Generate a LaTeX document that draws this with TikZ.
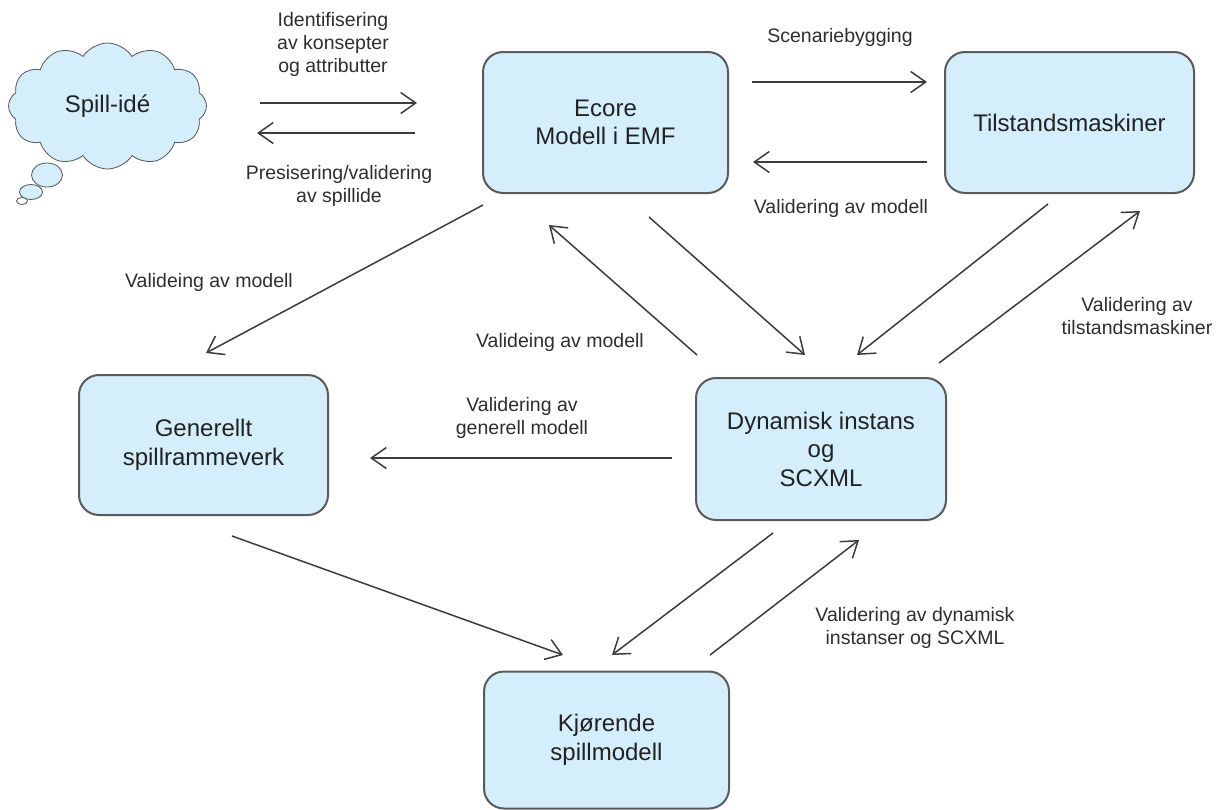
\documentclass[tikz,border=0pt]{standalone}
\usepackage{fontspec}
\setmainfont{Liberation Sans}
\usetikzlibrary{arrows.meta,shapes.symbols,shapes.geometric}
\definecolor{boxfill}{HTML}{D4EEFC}
\definecolor{boxline}{HTML}{5A5A5A}
\definecolor{arrowcol}{HTML}{3C3C3C}
\definecolor{txt}{HTML}{222222}
\definecolor{lbltxt}{HTML}{2E2E2E}
\definecolor{cloudline}{HTML}{555555}

\begin{document}
\begin{tikzpicture}[x=1pt,y=-1pt,
  stage/.style={draw=boxline, line width=2pt, fill=boxfill, rounded corners=20pt,
    align=center, font=\fontsize{24}{28.5}\selectfont, text=txt, inner sep=0pt},
  flow/.style={draw=arrowcol, line width=1.5pt,
    -{Straight Barb[length=15pt,width=21pt,line width=1.5pt]}},
  lbl/.style={align=center, font=\fontsize{19.5}{23}\selectfont, text=lbltxt, inner sep=0pt},
  bubble/.style={ellipse, draw=cloudline, line width=0.8pt, fill=boxfill, inner sep=0pt}]

\useasboundingbox (0,0) rectangle (1226,809);

% the idea cloud and its thought bubbles
\node[cloud, cloud puffs=12, cloud puff arc=115, aspect=1.6, draw=cloudline,
      line width=0.8pt, fill=boxfill, minimum width=198pt, minimum height=126pt,
      font=\fontsize{24}{28.5}\selectfont, text=txt] (idea) at (107.5,106) {Spill-idé};
\node[bubble, minimum width=31pt, minimum height=24pt] (b1) at (47,175) {};
\node[bubble, minimum width=23pt, minimum height=15pt] (b2) at (31,192) {};
\node[bubble, minimum width=11pt, minimum height=7pt, fill=white] (b3) at (22,201) {};

% stages
\node[stage, minimum width=245pt, minimum height=141pt] (ecore) at (605.5,122.5) {Ecore\\Modell i EMF};
\node[stage, minimum width=249pt, minimum height=141pt] (tilstand) at (1069.5,122.5) {Tilstandsmaskiner};
\node[stage, minimum width=249pt, minimum height=140pt] (generellt) at (203.5,445) {Generellt\\spillrammeverk};
\node[stage, minimum width=250pt, minimum height=142pt] (dynamisk) at (821,449) {Dynamisk instans\\og\\SCXML};
\node[stage, minimum width=245pt, minimum height=137pt] (kjorende) at (606.5,740) {Kjørende\\spillmodell};

% connector end points
\coordinate (idea-r)    at (260,103);
\coordinate (ecore-l1)  at (417,103);
\coordinate (ecore-l2)  at (415,133);
\coordinate (idea-r2)   at (257,133);
\coordinate (ecore-r1)  at (752,82);
\coordinate (tils-l1)   at (927,82);
\coordinate (tils-l2)   at (927,162);
\coordinate (ecore-r2)  at (753,162);
\coordinate (ecore-sw)  at (483,205);
\coordinate (gen-n)     at (206,353);
\coordinate (dyn-nw1)   at (697,355);
\coordinate (ecore-s1)  at (549,225);
\coordinate (ecore-s2)  at (649,217);
\coordinate (dyn-nw2)   at (805,355);
\coordinate (tils-sw)   at (1048,204);
\coordinate (dyn-ne1)   at (857,355);
\coordinate (dyn-ne2)   at (939,363);
\coordinate (tils-s)    at (1140,211);
\coordinate (dyn-w)     at (672,458);
\coordinate (gen-e)     at (370,458);
\coordinate (gen-se)    at (232,536);
\coordinate (kj-n1)     at (563,655);
\coordinate (dyn-s1)    at (773,533);
\coordinate (kj-n2)     at (612,655);
\coordinate (kj-ne)     at (710,655);
\coordinate (dyn-s2)    at (859,540);

% connectors
\draw[flow] (idea-r) -- (ecore-l1);
\draw[flow] (ecore-l2) -- (idea-r2);
\draw[flow] (ecore-r1) -- (tils-l1);
\draw[flow] (tils-l2) -- (ecore-r2);
\draw[flow] (ecore-sw) -- (gen-n);
\draw[flow] (dyn-nw1) -- (ecore-s1);
\draw[flow] (ecore-s2) -- (dyn-nw2);
\draw[flow] (tils-sw) -- (dyn-ne1);
\draw[flow] (dyn-ne2) -- (tils-s);
\draw[flow] (dyn-w) -- (gen-e);
\draw[flow] (gen-se) -- (kj-n1);
\draw[flow] (dyn-s1) -- (kj-n2);
\draw[flow] (kj-ne) -- (dyn-s2);

% connector labels
\node[lbl] (l-ident) at (333,44.5) {Identifisering\\av konsepter\\og attributter};
\node[lbl] (l-pres)  at (339,186) {Presisering/validering\\av spillide};
\node[lbl] (l-scen)  at (840,37) {Scenariebygging};
\node[lbl] (l-valm1) at (841,208) {Validering av modell};
\node[lbl] (l-valm2) at (209,282) {Valideing av modell};
\node[lbl] (l-valm3) at (560,342) {Valideing av modell};
\node[lbl] (l-valt)  at (1137,316.5) {Validering av\\tilstandsmaskiner};
\node[lbl] (l-valg)  at (522,417.5) {Validering av\\generell modell};
\node[lbl] (l-vald)  at (915,627.5) {Validering av dynamisk\\instanser og SCXML};

\end{tikzpicture}
\end{document}
